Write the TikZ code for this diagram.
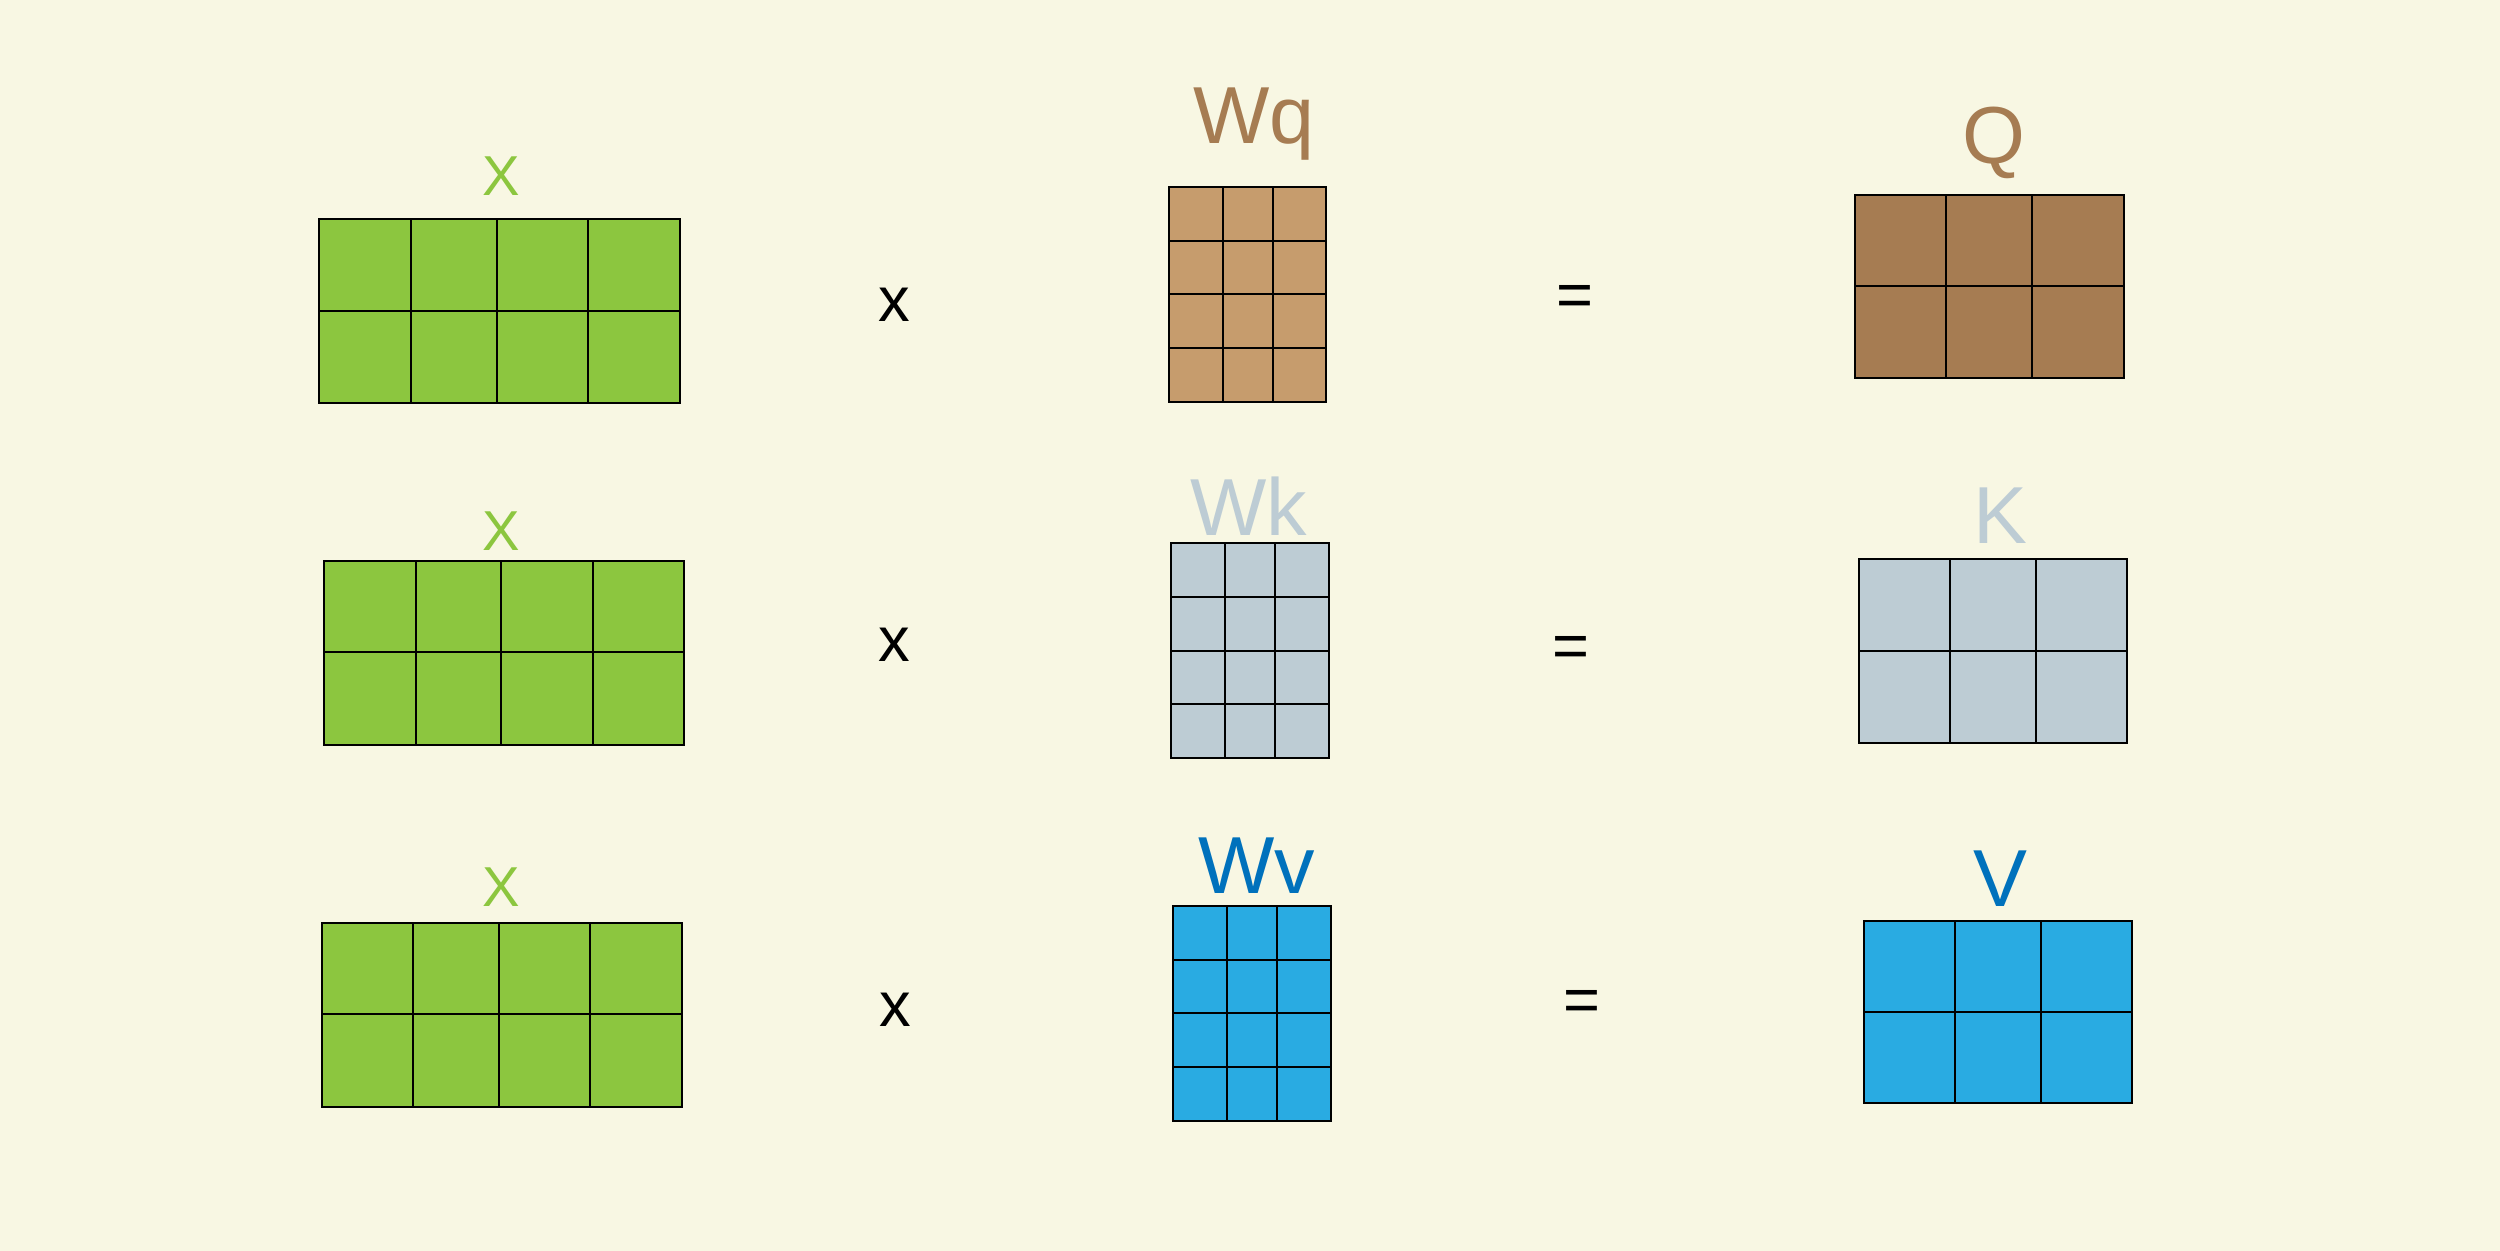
\documentclass[tikz,border=0pt]{standalone}
\usepackage{fontspec}
\setmainfont{Liberation Sans}

\definecolor{bgcream}{HTML}{F8F7E3}
\definecolor{xgreen}{HTML}{8CC63F}
\definecolor{qtan}{HTML}{C69C6D}
\definecolor{qbrown}{HTML}{A67C52}
\definecolor{kgrey}{HTML}{BDCCD4}
\definecolor{vcyan}{HTML}{29ABE2}
\definecolor{vblue}{HTML}{0071BC}

\tikzset{
  cellline/.style={draw=black, line width=0.8pt},
  smalllabel/.style={anchor=base, inner sep=0pt, font=\fontsize{16}{19}\selectfont},
  biglabel/.style={anchor=base, inner sep=0pt, font=\fontsize{23}{27}\selectfont},
  opsign/.style={anchor=base, inner sep=0pt, font=\fontsize{18}{21}\selectfont}
}

\begin{document}
\begin{tikzpicture}[x=0.01cm, y=-0.01cm]
\useasboundingbox (0,0) rectangle (2500,1250);
\fill[bgcream] (-10,-10) rectangle (2510,1260);

% row 1 : query
\filldraw[cellline, fill=xgreen] (319,219) rectangle (680,403);
\foreach \xx in {411,497,588} \draw[cellline] (\xx,219) -- (\xx,403);
\draw[cellline] (319,311) -- (680,311);
\filldraw[cellline, fill=qtan] (1169,187) rectangle (1326,402);
\foreach \xx in {1223,1273} \draw[cellline] (\xx,187) -- (\xx,402);
\foreach \yy in {241,294,348} \draw[cellline] (1169,\yy) -- (1326,\yy);
\filldraw[cellline, fill=qbrown] (1855,195) rectangle (2124,378);
\foreach \xx in {1946,2032} \draw[cellline] (\xx,195) -- (\xx,378);
\draw[cellline] (1855,286) -- (2124,286);
\node[smalllabel, text=xgreen] (inX1) at (501,195) {X};
\node[biglabel, text=qbrown] (labWq) at (1254,143) {Wq};
\node[biglabel, text=qbrown] (labQ) at (1994,163) {Q};
\node[opsign] (mul1) at (894,321) {x};
\node[opsign] (eq1) at (1575,316) {=};

% row 2 : key
\filldraw[cellline, fill=xgreen] (324,561) rectangle (684,745);
\foreach \xx in {416,501,593} \draw[cellline] (\xx,561) -- (\xx,745);
\draw[cellline] (324,652) -- (684,652);
\filldraw[cellline, fill=kgrey] (1171,543) rectangle (1329,758);
\foreach \xx in {1225,1275} \draw[cellline] (\xx,543) -- (\xx,758);
\foreach \yy in {597,651,704} \draw[cellline] (1171,\yy) -- (1329,\yy);
\filldraw[cellline, fill=kgrey] (1859,559) rectangle (2127,743);
\foreach \xx in {1950,2036} \draw[cellline] (\xx,559) -- (\xx,743);
\draw[cellline] (1859,651) -- (2127,651);
\node[smalllabel, text=xgreen] (inX2) at (501,550) {X};
\node[biglabel, text=kgrey] (labWk) at (1249,535) {Wk};
\node[biglabel, text=kgrey] (labK) at (2000,543) {K};
\node[opsign] (mul2) at (894,661) {x};
\node[opsign] (eq2) at (1571,667) {=};

% row 3 : value
\filldraw[cellline, fill=xgreen] (322,923) rectangle (682,1107);
\foreach \xx in {413,499,590} \draw[cellline] (\xx,923) -- (\xx,1107);
\draw[cellline] (322,1014) -- (682,1014);
\filldraw[cellline, fill=vcyan] (1173,906) rectangle (1331,1121);
\foreach \xx in {1227,1277} \draw[cellline] (\xx,906) -- (\xx,1121);
\foreach \yy in {960,1013,1067} \draw[cellline] (1173,\yy) -- (1331,\yy);
\filldraw[cellline, fill=vcyan] (1864,921) rectangle (2132,1103);
\foreach \xx in {1955,2041} \draw[cellline] (\xx,921) -- (\xx,1103);
\draw[cellline] (1864,1012) -- (2132,1012);
\node[smalllabel, text=xgreen] (inX3) at (501,906) {X};
\node[biglabel, text=vblue] (labWv) at (1257,893) {Wv};
\node[biglabel, text=vblue] (labV) at (2000,906) {V};
\node[opsign] (mul3) at (895,1026) {x};
\node[opsign] (eq3) at (1582,1021) {=};
\end{tikzpicture}
\end{document}
